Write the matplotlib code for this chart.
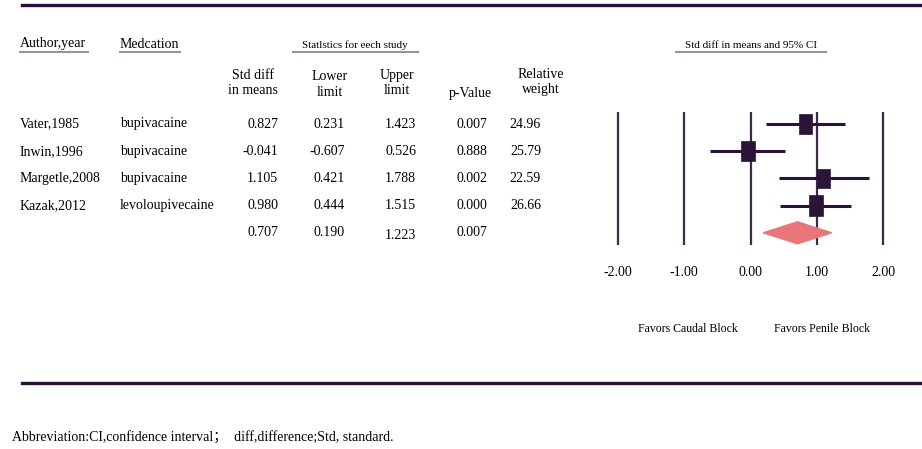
import matplotlib.pyplot as plt
import matplotlib.transforms as mtransforms
from matplotlib.patches import Rectangle, Polygon
from matplotlib.lines import Line2D

plt.rcParams['font.family'] = ['Liberation Serif', 'DejaVu Serif']

# data of the forest plot
authors = ['Vater,1985', 'Inwin,1996', 'Margetle,2008', 'Kazak,2012']
drugs = ['bupivacaine', 'bupivacaine', 'bupivacaine', 'levoloupivecaine']
std_diff = [0.827, -0.041, 1.105, 0.980]
lower = [0.231, -0.607, 0.421, 0.444]
upper = [1.423, 0.526, 1.788, 1.515]
p_value = ['0.007', '0.888', '0.002', '0.000']
weight = [24.96, 25.79, 22.59, 26.66]
pooled = [0.707, 0.190, 1.223]
pooled_p = '0.007'
xticks = [-2, -1, 0, 1, 2]

W, H = 922, 449
fig = plt.figure(figsize=(W / 100, H / 100), dpi=100)

def fx(px):
    return px / W

def fy(py):
    return 1 - py / H

dark = '#2b1438'
line_col = '#3d2a48'
under_col = '#9c8ea3'

# forest axes: -2 at x=618px, 66.3 px per unit
x_lo, x_hi = -2.6, 2.6
ppu = 66.3
ax_left = 618 + (x_lo + 2) * ppu
ax_w = (x_hi - x_lo) * ppu
row_px, row_step = 124, 27.2
ax_top, ax_bot = 100, 260
ax = fig.add_axes([fx(ax_left), fy(ax_bot), fx(ax_w), (ax_bot - ax_top) / H])
ax.set_xlim(x_lo, x_hi)
ax.set_ylim((ax_bot - row_px) / row_step, (ax_top - row_px) / row_step)
ax.axis('off')

for t in xticks:
    ax.plot([t, t], [-0.44, 4.45], color=line_col, lw=1.6, solid_capstyle='butt')

for i in range(len(authors)):
    ax.plot([lower[i], upper[i]], [i, i], color=dark, lw=2.2, solid_capstyle='butt')
    s = (weight[i] / 25) ** 0.5
    w = 13.5 * s / ppu
    h = 20 * s / row_step
    ax.add_patch(Rectangle((std_diff[i] - w / 2, i - h / 2), w, h, facecolor=dark,
                           edgecolor=dark, lw=0.5, zorder=3))

n = len(authors)
dh = 11 / row_step
ax.add_patch(Polygon([(pooled[1], n), (pooled[0], n - dh), (pooled[2], n), (pooled[0], n + dh)],
                     closed=True, facecolor='#e8767a', edgecolor='#e8767a', zorder=3))

# table text, x in figure, y in row units
tr = mtransforms.blended_transform_factory(fig.transFigure, ax.transData)
fs = 10
for i in range(n):
    ax.text(fx(20), i, authors[i], transform=tr, ha='left', va='center', fontsize=fs)
    ax.text(fx(120), i, drugs[i], transform=tr, ha='left', va='center', fontsize=fs)
    ax.text(fx(278), i, '%.3f' % std_diff[i], transform=tr, ha='right', va='center', fontsize=fs)
    ax.text(fx(345), i, '%.3f' % lower[i], transform=tr, ha='right', va='center', fontsize=fs)
    ax.text(fx(416), i, '%.3f' % upper[i], transform=tr, ha='right', va='center', fontsize=fs)
    ax.text(fx(487), i, p_value[i], transform=tr, ha='right', va='center', fontsize=fs)
    ax.text(fx(541), i, '%.2f' % weight[i], transform=tr, ha='right', va='center', fontsize=fs)
ax.text(fx(278), n, '%.3f' % pooled[0], transform=tr, ha='right', va='center', fontsize=fs)
ax.text(fx(345), n, '%.3f' % pooled[1], transform=tr, ha='right', va='center', fontsize=fs)
ax.text(fx(416), n + 0.1, '%.3f' % pooled[2], transform=tr, ha='right', va='center', fontsize=fs)
ax.text(fx(487), n, pooled_p, transform=tr, ha='right', va='center', fontsize=fs)

# x tick labels
for t in xticks:
    fig.text(fx(618 + (t + 2) * ppu), fy(273), '%.2f' % t, ha='center', va='center', fontsize=fs)

# headers
fig.text(fx(20), fy(44), 'Author,year', ha='left', va='center', fontsize=fs)
fig.text(fx(120), fy(44), 'Medcation', ha='left', va='center', fontsize=fs)
fig.text(fx(355), fy(45), 'Statlstics for eech study', ha='center', va='center', fontsize=8)
fig.text(fx(751), fy(45), 'Std diff in means and 95% CI', ha='center', va='center', fontsize=8)
for x0, x1 in [(20, 88), (120, 180), (293, 418), (676, 826)]:
    fig.add_artist(Line2D([fx(x0), fx(x1)], [fy(52), fy(52)], color=under_col, lw=1.5))

fig.text(fx(253), fy(83), 'Std diff\nin means', ha='center', va='center', fontsize=fs, linespacing=1.15)
fig.text(fx(330), fy(84), 'Lower\nlimit', ha='center', va='center', fontsize=fs, linespacing=1.3)
fig.text(fx(397), fy(83), 'Upper\nlimit', ha='center', va='center', fontsize=fs, linespacing=1.15)
fig.text(fx(470), fy(93), 'p-Value', ha='center', va='center', fontsize=fs)
fig.text(fx(541), fy(82), 'Relative\nweight', ha='center', va='center', fontsize=fs, linespacing=1.1)

fig.text(fx(688), fy(329), 'Favors Caudal Block', ha='center', va='center', fontsize=8.5)
fig.text(fx(822), fy(329), 'Favors Penile Block', ha='center', va='center', fontsize=8.5)

# thick rules
for py in [5, 383]:
    fig.add_artist(Line2D([fx(22), 1], [fy(py), fy(py)], color='#2a0f3a', lw=2.4))

fig.text(fx(12), fy(437), 'Abbreviation:CI,confidence interval；  diff,difference;Std, standard.',
         ha='left', va='center', fontsize=fs, family=['Liberation Serif', 'Noto Sans CJK SC'])

fig.savefig('out.png', dpi=100, facecolor='white')
